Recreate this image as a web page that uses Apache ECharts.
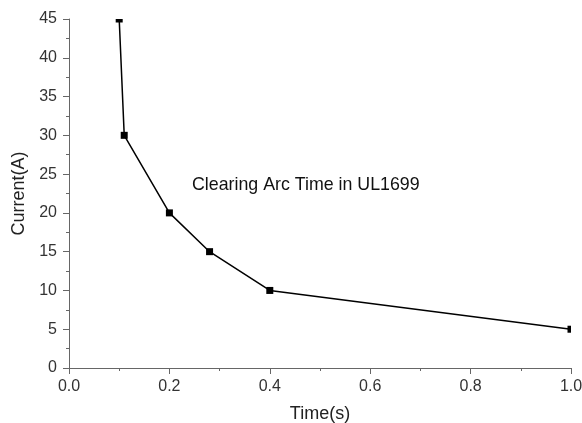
<!DOCTYPE html>
<html>
<head>
<meta charset="utf-8">
<script src="https://cdn.jsdelivr.net/npm/echarts@6/dist/echarts.min.js"></script>
<style>html,body{margin:0;padding:0;background:#fff}#c{width:582px;height:423px}</style>
</head>
<body>
<div id="c"></div>
<script>
const timeValues = [0.10, 0.11, 0.20, 0.28, 0.40, 1.00];
const currentValues = [45, 30, 20, 15, 10, 5];
const xTicks = ['0.0', '0.2', '0.4', '0.6', '0.8', '1.0'];
const yTicks = ['0', '5', '10', '15', '20', '25', '30', '35', '40', '45'];
const chartTitle = 'Clearing Arc Time in UL1699';

const X_MAX = 1.0, Y_MAX = 45;
const font = 'Liberation Sans, Arial, sans-serif';
const chart = echarts.init(document.getElementById('c'));
const data = timeValues.map((t, i) => [t, currentValues[i]]);

function symSize(v) {
  if (v[1] >= Y_MAX) return [7, 3.5];
  if (v[0] >= X_MAX) return [3.5, 7];
  return 7;
}

chart.setOption({
  animation: false,
  backgroundColor: '#fff',
  grid: { left: 69, right: 11, top: 19, bottom: 55, containLabel: false, outerBoundsMode: 'none' },
  xAxis: {
    type: 'value', min: 0, max: 1, interval: 0.2,
    name: 'Time(s)', nameLocation: 'middle', nameGap: 37,
    nameTextStyle: { fontFamily: font, fontSize: 18, color: '#222' },
    axisLine: { lineStyle: { color: '#666', width: 1 } },
    axisTick: { show: true, length: 6, lineStyle: { color: '#666' } },
    minorTick: { show: true, splitNumber: 2, length: 3, lineStyle: { color: '#666' } },
    splitLine: { show: false },
    axisLabel: { fontFamily: font, fontSize: 16, color: '#333', margin: 11,
      formatter: (v) => xTicks[Math.round(v / 0.2)] },
  },
  yAxis: {
    type: 'value', min: 0, max: 45, interval: 5,
    name: 'Current(A)', nameLocation: 'middle', nameGap: 41, nameRotate: 90,
    nameTextStyle: { fontFamily: font, fontSize: 18, color: '#222' },
    axisLine: { show: true, lineStyle: { color: '#666', width: 1 } },
    axisTick: { show: true, length: 6, lineStyle: { color: '#666' } },
    minorTick: { show: true, splitNumber: 2, length: 3, lineStyle: { color: '#666' } },
    splitLine: { show: false },
    axisLabel: { fontFamily: font, fontSize: 16, color: '#333', margin: 12,
      formatter: (v) => yTicks[Math.round(v / 5)] },
  },
  series: [{
    type: 'line',
    clip: false,
    symbol: 'rect',
    symbolSize: (v) => symSize(v),
    showAllSymbol: true,
    itemStyle: { color: '#000' },
    lineStyle: { color: '#000', width: 1.5 },
    data: data.map(v => {
      const o = { value: v };
      if (v[1] >= Y_MAX) o.symbolOffset = [0, 1.75];
      else if (v[0] >= X_MAX) o.symbolOffset = [-1.75, 0];
      return o;
    })
  }],
  graphic: [{
    type: 'text', left: 192, top: 176,
    style: { text: chartTitle, font: '17.8px ' + font, fill: '#111' }
  }]
});
</script>
</body>
</html>
